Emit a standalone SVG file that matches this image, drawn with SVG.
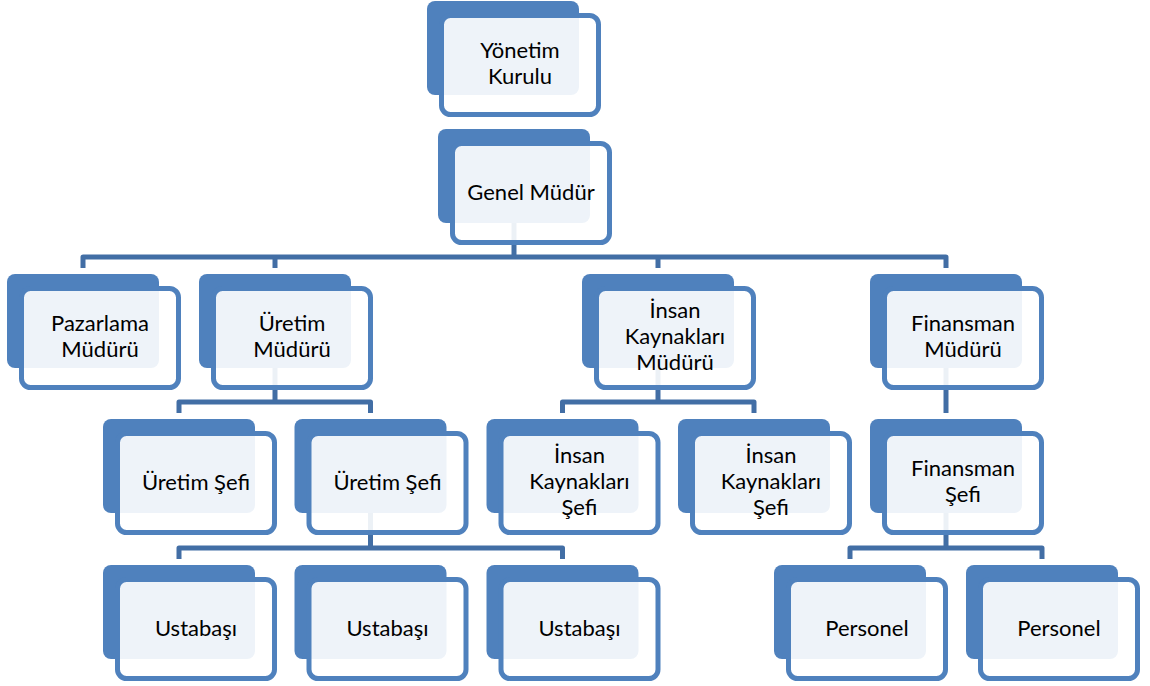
<svg xmlns="http://www.w3.org/2000/svg" width="1150" height="686" viewBox="0 0 1150 686">
<style>
.back{fill:#4F81BD}
.front{fill:#FFFFFF;fill-opacity:0.9;stroke:#4F81BD;stroke-width:5}
.t{font-family:Lato,"Open Sans","Liberation Sans",sans-serif;font-size:22px;fill:#000000;text-anchor:middle}
.c{fill:none;stroke:#426EA5;stroke-width:5;stroke-linejoin:round}
</style>
<rect width="1150" height="686" fill="#FFFFFF"/>
<g id="connectors">
<path class="c" d="M514,223 V257 M83,268 V257 H946 V268 M275,257 V268 M658,257 V268"/>
<path class="c" d="M275,368 V402 M179,413 V402 H370.5 V413"/>
<path class="c" d="M658,368 V402 M562.5,413 V402 H754 V413"/>
<path class="c" d="M946,368 V413"/>
<path class="c" d="M370.5,513 V548 M179,559 V548 H562.5 V559"/>
<path class="c" d="M946,513 V548 M850,559 V548 H1042 V559"/>
</g>
<g id="yonetim-kurulu" transform="translate(427,1)">
<rect class="back" width="152" height="94" rx="8"/>
<rect class="front" x="14.5" y="14.5" width="157" height="99" rx="9"/>
<text class="t" x="93" y="57">Yönetim</text><text class="t" x="93" y="83">Kurulu</text>
</g>
<g id="genel-mudur" transform="translate(438,129)">
<rect class="back" width="152" height="94" rx="8"/>
<rect class="front" x="14.5" y="14.5" width="157" height="99" rx="9"/>
<text class="t" x="93" y="71">Genel Müdür</text>
</g>
<g id="pazarlama-muduru" transform="translate(7,274)">
<rect class="back" width="152" height="94" rx="8"/>
<rect class="front" x="14.5" y="14.5" width="157" height="99" rx="9"/>
<text class="t" x="93" y="57">Pazarlama</text><text class="t" x="93" y="83">Müdürü</text>
</g>
<g id="uretim-muduru" transform="translate(199,274)">
<rect class="back" width="152" height="94" rx="8"/>
<rect class="front" x="14.5" y="14.5" width="157" height="99" rx="9"/>
<text class="t" x="93" y="57">Üretim</text><text class="t" x="93" y="83">Müdürü</text>
</g>
<g id="ik-muduru" transform="translate(582,274)">
<rect class="back" width="152" height="94" rx="8"/>
<rect class="front" x="14.5" y="14.5" width="157" height="99" rx="9"/>
<text class="t" x="93" y="44">İnsan</text><text class="t" x="93" y="70">Kaynakları</text><text class="t" x="93" y="96">Müdürü</text>
</g>
<g id="finansman-muduru" transform="translate(870,274)">
<rect class="back" width="152" height="94" rx="8"/>
<rect class="front" x="14.5" y="14.5" width="157" height="99" rx="9"/>
<text class="t" x="93" y="57">Finansman</text><text class="t" x="93" y="83">Müdürü</text>
</g>
<g id="uretim-sefi-1" transform="translate(103,419)">
<rect class="back" width="152" height="94" rx="8"/>
<rect class="front" x="14.5" y="14.5" width="157" height="99" rx="9"/>
<text class="t" x="93" y="71">Üretim Şefi</text>
</g>
<g id="uretim-sefi-2" transform="translate(294.5,419)">
<rect class="back" width="152" height="94" rx="8"/>
<rect class="front" x="14.5" y="14.5" width="157" height="99" rx="9"/>
<text class="t" x="93" y="71">Üretim Şefi</text>
</g>
<g id="ik-sefi-1" transform="translate(486.5,419)">
<rect class="back" width="152" height="94" rx="8"/>
<rect class="front" x="14.5" y="14.5" width="157" height="99" rx="9"/>
<text class="t" x="93" y="44">İnsan</text><text class="t" x="93" y="70">Kaynakları</text><text class="t" x="93" y="96">Şefi</text>
</g>
<g id="ik-sefi-2" transform="translate(678,419)">
<rect class="back" width="152" height="94" rx="8"/>
<rect class="front" x="14.5" y="14.5" width="157" height="99" rx="9"/>
<text class="t" x="93" y="44">İnsan</text><text class="t" x="93" y="70">Kaynakları</text><text class="t" x="93" y="96">Şefi</text>
</g>
<g id="finansman-sefi" transform="translate(870,419)">
<rect class="back" width="152" height="94" rx="8"/>
<rect class="front" x="14.5" y="14.5" width="157" height="99" rx="9"/>
<text class="t" x="93" y="57">Finansman</text><text class="t" x="93" y="83">Şefi</text>
</g>
<g id="ustabasi-1" transform="translate(103,565)">
<rect class="back" width="152" height="94" rx="8"/>
<rect class="front" x="14.5" y="14.5" width="157" height="99" rx="9"/>
<text class="t" x="93" y="71">Ustabaşı</text>
</g>
<g id="ustabasi-2" transform="translate(294.5,565)">
<rect class="back" width="152" height="94" rx="8"/>
<rect class="front" x="14.5" y="14.5" width="157" height="99" rx="9"/>
<text class="t" x="93" y="71">Ustabaşı</text>
</g>
<g id="ustabasi-3" transform="translate(486.5,565)">
<rect class="back" width="152" height="94" rx="8"/>
<rect class="front" x="14.5" y="14.5" width="157" height="99" rx="9"/>
<text class="t" x="93" y="71">Ustabaşı</text>
</g>
<g id="personel-1" transform="translate(774,565)">
<rect class="back" width="152" height="94" rx="8"/>
<rect class="front" x="14.5" y="14.5" width="157" height="99" rx="9"/>
<text class="t" x="93" y="71">Personel</text>
</g>
<g id="personel-2" transform="translate(966,565)">
<rect class="back" width="152" height="94" rx="8"/>
<rect class="front" x="14.5" y="14.5" width="157" height="99" rx="9"/>
<text class="t" x="93" y="71">Personel</text>
</g>
</svg>
